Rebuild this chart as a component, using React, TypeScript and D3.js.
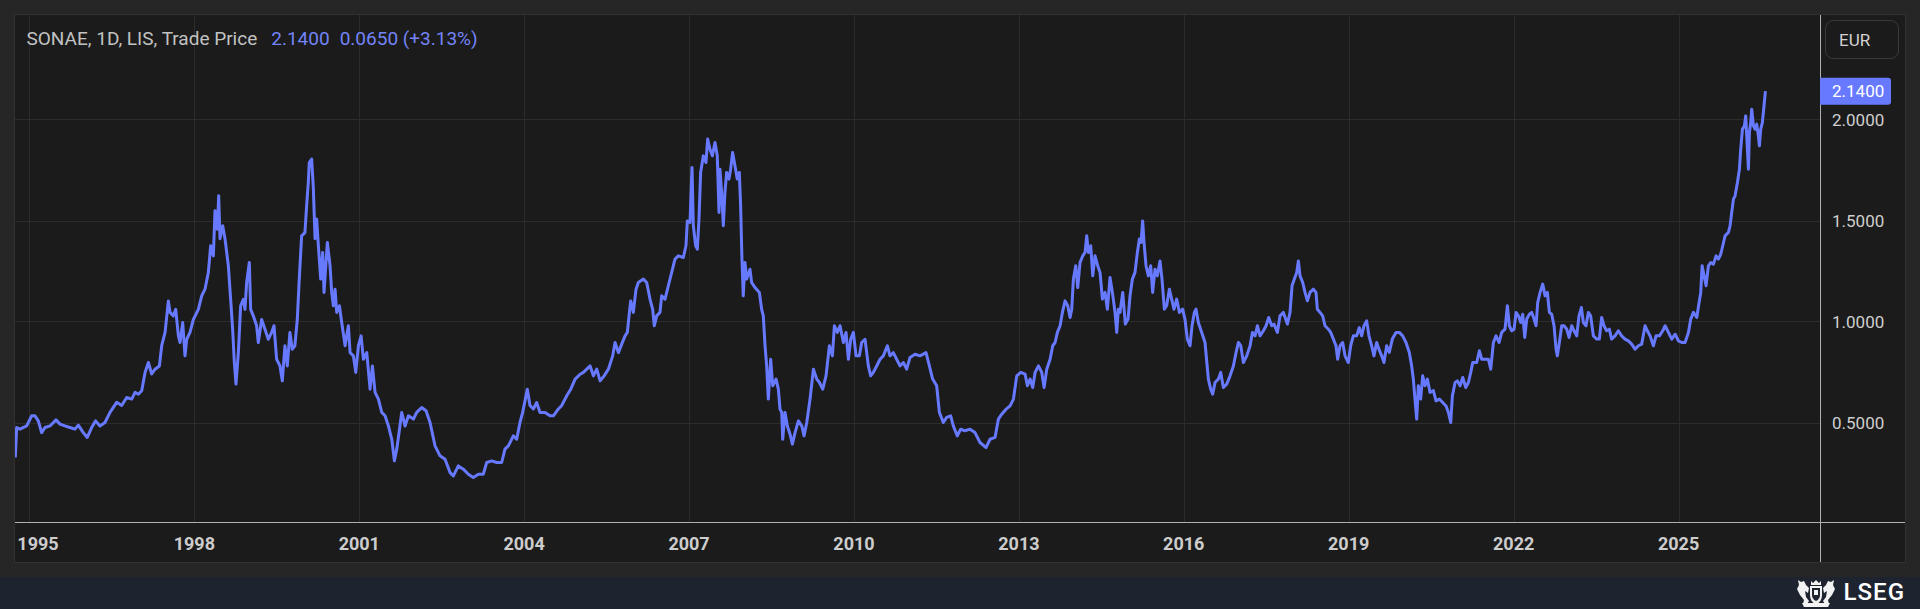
import React, { useEffect, useRef } from "react";
import * as d3 from "d3";

const WIDTH = 1920;
const HEIGHT = 609;

const titleText = "SONAE, 1D, LIS, Trade Price";
const lastPriceText = "2.1400";
const changeText = "0.0650 (+3.13%)";
const currencyText = "EUR";
const brandText = "LSEG";

const lastPrice = 2.14;
const yearTicks = [1995, 1998, 2001, 2004, 2007, 2010, 2013, 2016, 2019, 2022, 2025];
const priceTicks = [0.5, 1.0, 1.5, 2.0];

// visible time window (decimal years)
const viewStart = 1994.738;
const viewEnd = 2027.574;

// trade dates as decimal years
const tradeYears = [
  1994.744, 1994.768, 1994.829, 1994.95, 1995.041, 1995.102, 1995.162, 1995.223, 1995.284, 1995.375,
  1995.484, 1995.557, 1995.647, 1995.738, 1995.829, 1995.89, 1995.981, 1996.054, 1996.133, 1996.205,
  1996.284, 1996.375, 1996.466, 1996.587, 1996.678, 1996.769, 1996.86, 1996.921, 1996.981, 1997.042,
  1997.103, 1997.163, 1997.224, 1997.285, 1997.364, 1997.406, 1997.467, 1997.527, 1997.558, 1997.618,
  1997.661, 1997.709, 1997.739, 1997.788, 1997.83, 1997.861, 1997.921, 1997.982, 1998.073, 1998.134,
  1998.194, 1998.255, 1998.297, 1998.346, 1998.376, 1998.419, 1998.443, 1998.467, 1998.516, 1998.558,
  1998.619, 1998.661, 1998.697, 1998.728, 1998.758, 1998.801, 1998.843, 1998.892, 1998.922, 1998.952,
  1999.001, 1999.025, 1999.073, 1999.134, 1999.164, 1999.225, 1999.286, 1999.346, 1999.407, 1999.45,
  1999.498, 1999.559, 1999.601, 1999.649, 1999.692, 1999.74, 1999.783, 1999.831, 1999.874, 1999.91,
  1999.953, 2000.013, 2000.044, 2000.074, 2000.092,
  2000.135, 2000.166, 2000.196, 2000.226, 2000.257, 2000.299, 2000.335, 2000.36, 2000.42, 2000.469,
  2000.499, 2000.529, 2000.56, 2000.59, 2000.639, 2000.681, 2000.742, 2000.802, 2000.833, 2000.893,
  2000.936, 2000.984, 2001.033, 2001.075, 2001.136, 2001.196, 2001.239, 2001.287, 2001.348, 2001.409,
  2001.469, 2001.53, 2001.591, 2001.639, 2001.682, 2001.724, 2001.772, 2001.833, 2001.894, 2001.985,
  2002.045, 2002.136, 2002.215, 2002.288, 2002.379, 2002.47, 2002.561, 2002.652, 2002.712, 2002.803,
  2002.894, 2002.985, 2003.076, 2003.167, 2003.258, 2003.319, 2003.41, 2003.501, 2003.592, 2003.652,
  2003.713, 2003.804, 2003.865, 2003.925, 2003.974, 2004.059, 2004.107, 2004.168, 2004.228, 2004.289,
  2004.38, 2004.471, 2004.532, 2004.623, 2004.683, 2004.774, 2004.847, 2004.926, 2005.017, 2005.077,
  2005.199, 2005.259, 2005.32, 2005.381, 2005.454, 2005.532,
  2005.61, 2005.653, 2005.714, 2005.774, 2005.835, 2005.877, 2005.914, 2005.938, 2005.986, 2006.035,
  2006.077, 2006.168, 2006.229, 2006.29, 2006.338, 2006.368, 2006.411, 2006.471, 2006.502, 2006.562,
  2006.623, 2006.684, 2006.744, 2006.805, 2006.896, 2006.944, 2006.969, 2007.017, 2007.054, 2007.078,
  2007.12, 2007.151, 2007.181, 2007.211, 2007.26, 2007.308, 2007.339, 2007.381, 2007.424, 2007.472,
  2007.514, 2007.545, 2007.563, 2007.593, 2007.624, 2007.654, 2007.684, 2007.727, 2007.757, 2007.793,
  2007.836, 2007.878, 2007.915, 2007.939, 2007.963, 2007.987, 2008.018, 2008.048, 2008.109, 2008.139,
  2008.2, 2008.279, 2008.321, 2008.351, 2008.382, 2008.412, 2008.442, 2008.485, 2008.521, 2008.582,
  2008.624, 2008.654, 2008.685, 2008.703, 2008.745, 2008.788, 2008.836, 2008.879, 2008.927, 2008.988,
  2009.049, 2009.091, 2009.14, 2009.2, 2009.261, 2009.322, 2009.37, 2009.431, 2009.491, 2009.552,
  2009.607, 2009.643, 2009.697, 2009.746, 2009.807, 2009.855, 2009.898, 2009.94, 2009.989, 2010.037,
  2010.098, 2010.14, 2010.201, 2010.261, 2010.304, 2010.352, 2010.413, 2010.474, 2010.534, 2010.607,
  2010.655, 2010.716, 2010.777, 2010.837, 2010.898, 2010.959,
  2011.02, 2011.111, 2011.202, 2011.311, 2011.372, 2011.432, 2011.505, 2011.554, 2011.626, 2011.687,
  2011.76, 2011.808, 2011.881, 2011.942, 2012.02, 2012.111, 2012.202, 2012.293, 2012.402, 2012.475,
  2012.566, 2012.627, 2012.687, 2012.766, 2012.839, 2012.9, 2012.96, 2013.033, 2013.112, 2013.154,
  2013.203, 2013.251, 2013.294, 2013.355, 2013.415, 2013.458, 2013.506, 2013.567, 2013.615, 2013.658,
  2013.7, 2013.749, 2013.791, 2013.84, 2013.888, 2013.931, 2013.961, 2013.991, 2014.034, 2014.07,
  2014.112, 2014.161, 2014.203, 2014.234, 2014.264, 2014.307, 2014.343, 2014.385, 2014.434, 2014.476,
  2014.519, 2014.567, 2014.61, 2014.658, 2014.701, 2014.749, 2014.78, 2014.81, 2014.84, 2014.889,
  2014.937, 2014.986, 2015.022, 2015.065, 2015.113, 2015.156, 2015.192, 2015.222, 2015.252, 2015.277,
  2015.313, 2015.356, 2015.398, 2015.434, 2015.477, 2015.519, 2015.568, 2015.604, 2015.647, 2015.689,
  2015.738, 2015.78, 2015.822, 2015.871, 2015.92, 2015.98, 2016.022, 2016.065, 2016.114, 2016.15,
  2016.192, 2016.223, 2016.265, 2016.326, 2016.386, 2016.447,
  2016.489, 2016.525, 2016.568, 2016.629, 2016.671, 2016.719, 2016.78, 2016.841, 2016.901, 2016.95,
  2016.992, 2017.035, 2017.083, 2017.144, 2017.205, 2017.247, 2017.296, 2017.338, 2017.386, 2017.447,
  2017.496, 2017.544, 2017.599, 2017.641, 2017.702, 2017.75, 2017.811, 2017.884, 2017.932, 2017.969,
  2018.011, 2018.054, 2018.084, 2018.114, 2018.163, 2018.205, 2018.248, 2018.296, 2018.357, 2018.405,
  2018.429, 2018.478, 2018.526, 2018.569, 2018.63, 2018.672, 2018.721, 2018.769, 2018.799, 2018.842,
  2018.89, 2018.933, 2018.993, 2019.036, 2019.084, 2019.145, 2019.194, 2019.236, 2019.278, 2019.327,
  2019.369, 2019.418, 2019.46, 2019.509, 2019.551, 2019.6, 2019.642, 2019.691, 2019.739, 2019.794,
  2019.861, 2019.921, 2019.982, 2020.043, 2020.103, 2020.146, 2020.176, 2020.206, 2020.237, 2020.267,
  2020.309, 2020.346, 2020.388, 2020.431, 2020.479, 2020.54, 2020.588, 2020.649, 2020.709, 2020.77,
  2020.813, 2020.855, 2020.885, 2020.934, 2020.976, 2021.025, 2021.073, 2021.128, 2021.176, 2021.219,
  2021.255, 2021.328, 2021.376, 2021.419, 2021.48, 2021.54, 2021.583, 2021.631, 2021.68, 2021.734,
  2021.783, 2021.843, 2021.886, 2021.922,
  2021.965, 2022.008, 2022.044, 2022.087, 2022.129, 2022.165, 2022.202, 2022.238, 2022.287, 2022.329,
  2022.372, 2022.408, 2022.438, 2022.481, 2022.529, 2022.572, 2022.614, 2022.65, 2022.693, 2022.735,
  2022.772, 2022.796, 2022.832, 2022.875, 2022.917, 2022.966, 2023.008, 2023.057, 2023.099, 2023.148,
  2023.19, 2023.233, 2023.269, 2023.317, 2023.36, 2023.402, 2023.451, 2023.512, 2023.56, 2023.602,
  2023.645, 2023.693, 2023.742, 2023.784, 2023.845, 2023.906, 2023.966, 2024.027, 2024.088, 2024.148,
  2024.209, 2024.27, 2024.33, 2024.391, 2024.433, 2024.482, 2024.542, 2024.591, 2024.652, 2024.712,
  2024.755, 2024.815, 2024.876, 2024.937, 2024.997, 2025.058, 2025.118, 2025.179, 2025.221, 2025.27,
  2025.331, 2025.373, 2025.403, 2025.428, 2025.464, 2025.5, 2025.543, 2025.585, 2025.634, 2025.682,
  2025.725, 2025.767, 2025.804, 2025.846, 2025.907, 2025.937, 2025.967, 2025.998, 2026.028, 2026.071,
  2026.107, 2026.131, 2026.162, 2026.198, 2026.222, 2026.24, 2026.271, 2026.289, 2026.313, 2026.331,
  2026.362, 2026.392, 2026.422, 2026.452, 2026.471, 2026.495, 2026.525, 2026.555, 2026.58,
];

// close prices (EUR), same order as tradeYears
const tradePrices = [
  0.327, 0.475, 0.467, 0.483, 0.533, 0.533, 0.508, 0.45, 0.475, 0.483,
  0.513, 0.492, 0.483, 0.475, 0.467, 0.487, 0.45, 0.426, 0.475, 0.508,
  0.483, 0.5, 0.55, 0.6, 0.584, 0.624, 0.616, 0.649, 0.64, 0.657,
  0.748, 0.797, 0.74, 0.764, 0.78, 0.88, 0.946, 1.102, 1.045, 1.028,
  1.06, 0.93, 0.896, 0.995, 0.83, 0.912, 0.946, 1.01, 1.06, 1.127,
  1.16, 1.243, 1.375, 1.325, 1.548, 1.457, 1.622, 1.41, 1.474, 1.41,
  1.276, 1.11, 0.962, 0.797, 0.69, 0.846, 1.078, 1.11, 1.06, 1.193,
  1.292, 1.06, 1.028, 0.979, 0.896, 1.01, 0.962, 0.912, 0.946, 0.979,
  0.813, 0.78, 0.706, 0.88, 0.78, 0.946, 0.863, 0.88, 1.01, 1.21,
  1.424, 1.44, 1.573, 1.688, 1.787,
  1.804, 1.659, 1.41, 1.507, 1.375, 1.21, 1.342, 1.144, 1.391, 1.276,
  1.144, 1.078, 1.16, 1.045, 1.078, 0.995, 0.88, 0.979, 0.846, 0.83,
  0.748, 0.88, 0.929, 0.813, 0.846, 0.665, 0.78, 0.649, 0.616, 0.55,
  0.533, 0.483, 0.417, 0.31, 0.368, 0.45, 0.55, 0.483, 0.533, 0.517,
  0.55, 0.574, 0.558, 0.5, 0.384, 0.335, 0.318, 0.252, 0.236, 0.285,
  0.269, 0.244, 0.228, 0.244, 0.244, 0.302, 0.31, 0.302, 0.302, 0.368,
  0.384, 0.434, 0.417, 0.5, 0.55, 0.665, 0.584, 0.567, 0.599, 0.55,
  0.55, 0.533, 0.533, 0.567, 0.584, 0.632, 0.665, 0.715, 0.739, 0.748,
  0.78, 0.731, 0.764, 0.706, 0.731, 0.764,
  0.83, 0.896, 0.846, 0.888, 0.929, 0.946, 1.045, 1.102, 1.045, 1.16,
  1.193, 1.21, 1.193, 1.11, 1.06, 0.979, 1.028, 1.045, 1.127, 1.11,
  1.177, 1.243, 1.309, 1.325, 1.317, 1.375, 1.498, 1.49, 1.762, 1.474,
  1.375, 1.358, 1.507, 1.738, 1.82, 1.787, 1.903, 1.853, 1.82, 1.886,
  1.82, 1.54, 1.754, 1.639, 1.474, 1.639, 1.738, 1.705, 1.754, 1.837,
  1.771, 1.705, 1.738, 1.573, 1.309, 1.127, 1.292, 1.21, 1.259, 1.193,
  1.168, 1.144, 1.06, 1.028, 0.88, 0.78, 0.616, 0.813, 0.682, 0.715,
  0.665, 0.566, 0.55, 0.417, 0.55, 0.483, 0.442, 0.393, 0.45, 0.508,
  0.483, 0.434, 0.5, 0.616, 0.764, 0.715, 0.698, 0.665, 0.731, 0.88,
  0.83, 0.979, 0.946, 0.979, 0.896, 0.946, 0.813, 0.912, 0.946, 0.83,
  0.83, 0.896, 0.912, 0.78, 0.731, 0.748, 0.78, 0.813, 0.83, 0.88,
  0.83, 0.846, 0.813, 0.78, 0.797, 0.764,
  0.822, 0.838, 0.83, 0.846, 0.78, 0.715, 0.682, 0.55, 0.5, 0.525,
  0.533, 0.483, 0.434, 0.467, 0.459, 0.467, 0.45, 0.401, 0.376, 0.417,
  0.426, 0.517, 0.541, 0.566, 0.582, 0.616, 0.731, 0.748, 0.739, 0.682,
  0.715, 0.673, 0.748, 0.78, 0.748, 0.673, 0.764, 0.813, 0.88, 0.896,
  0.946, 0.979, 1.045, 1.102, 1.078, 1.02, 1.061, 1.21, 1.276, 1.168,
  1.292, 1.325, 1.342, 1.424, 1.342, 1.375, 1.226, 1.325, 1.276, 1.243,
  1.111, 1.144, 1.061, 1.218, 1.144, 1.045, 0.946, 1.061, 1.045, 1.144,
  0.987, 1.012, 1.127, 1.21, 1.243, 1.342, 1.408, 1.391, 1.498, 1.391,
  1.276, 1.226, 1.276, 1.144, 1.259, 1.226, 1.3, 1.21, 1.061, 1.078,
  1.16, 1.111, 1.061, 1.111, 1.045, 1.061, 1.012, 0.913, 0.88, 0.979,
  1.045, 1.061, 0.995, 0.946, 0.896, 0.715,
  0.665, 0.64, 0.698, 0.715, 0.748, 0.673, 0.69, 0.731, 0.78, 0.847,
  0.896, 0.88, 0.797, 0.83, 0.88, 0.946, 0.929, 0.979, 0.929, 0.954,
  0.979, 1.02, 0.979, 0.987, 0.946, 1.028, 1.045, 0.987, 1.045, 1.177,
  1.21, 1.243, 1.3, 1.226, 1.193, 1.144, 1.102, 1.144, 1.16, 1.144,
  1.061, 1.045, 1.028, 0.979, 0.962, 0.946, 0.913, 0.88, 0.813, 0.88,
  0.896, 0.83, 0.797, 0.88, 0.929, 0.929, 0.97, 0.929, 0.979, 1.003,
  0.929, 0.88, 0.83, 0.896, 0.863, 0.83, 0.797, 0.88, 0.847, 0.913,
  0.946, 0.946, 0.929, 0.896, 0.847, 0.78, 0.715, 0.616, 0.517, 0.682,
  0.616, 0.731, 0.682, 0.715, 0.649, 0.658, 0.607, 0.616, 0.599, 0.582,
  0.55, 0.5, 0.632, 0.698, 0.706, 0.682, 0.723, 0.673, 0.698, 0.748,
  0.797, 0.797, 0.855, 0.813, 0.813, 0.813, 0.764, 0.896, 0.929, 0.896,
  0.946, 0.962, 1.078, 0.979,
  0.954, 0.962, 1.045, 1.028, 0.995, 1.036, 0.921, 1.012, 1.036, 1.045,
  1.012, 0.979, 1.094, 1.144, 1.185, 1.127, 1.144, 1.045, 1.036, 0.979,
  0.863, 0.83, 0.896, 0.979, 0.979, 0.962, 0.921, 0.979, 0.954, 0.929,
  1.028, 1.069, 0.995, 0.979, 1.045, 1.028, 0.929, 0.913, 0.913, 1.02,
  0.979, 0.954, 0.962, 0.913, 0.929, 0.954, 0.929, 0.913, 0.904, 0.888,
  0.863, 0.88, 0.888, 0.979, 0.954, 0.929, 0.88, 0.929, 0.929, 0.954,
  0.979, 0.946, 0.913, 0.937, 0.904, 0.896, 0.896, 0.946, 1.012, 1.045,
  1.02, 1.094, 1.144, 1.276, 1.226, 1.177, 1.276, 1.292, 1.284, 1.325,
  1.309, 1.333, 1.375, 1.424, 1.441, 1.474, 1.54, 1.606, 1.622, 1.688,
  1.754, 1.853, 1.952, 1.969, 2.018, 1.919, 1.754, 1.936, 1.985, 2.051,
  1.969, 1.952, 1.977, 1.919, 1.87, 1.952, 1.985, 2.068, 2.14,
];

function yearToDate(y: number): Date {
  const yr = Math.floor(y);
  const start = Date.UTC(yr, 0, 1);
  const end = Date.UTC(yr + 1, 0, 1);
  return new Date(start + (y - yr) * (end - start));
}

export default function App() {
  const ref = useRef<SVGSVGElement | null>(null);

  useEffect(() => {
    document.body.style.margin = "0";
    document.body.style.background = "#262626";

    const panel = { left: 15, top: 15, right: 1905, bottom: 562 };
    const plot = { left: 15, top: 15, right: 1820, bottom: 522 };
    const font = "Roboto, 'Open Sans', Arial, sans-serif";
    const lineColor = "#6779ff";

    const svg = d3.select(ref.current);
    svg.selectAll("*").remove();

    // Scales
    const x = d3
      .scaleTime()
      .domain([yearToDate(viewStart), yearToDate(viewEnd)])
      .range([plot.left, plot.right]);
    const y = d3.scaleLinear().domain([0, 2.5]).range([523.5, 18.5]);

    // Backgrounds
    svg.append("rect").attr("width", WIDTH).attr("height", 577).attr("fill", "#262626");
    svg
      .append("rect")
      .attr("y", 577)
      .attr("width", WIDTH)
      .attr("height", HEIGHT - 577)
      .attr("fill", "#1e2330");
    svg
      .append("rect")
      .attr("x", panel.left - 0.5)
      .attr("y", panel.top - 0.5)
      .attr("width", panel.right - panel.left + 1)
      .attr("height", panel.bottom - panel.top + 1)
      .attr("fill", "#1b1b1b")
      .attr("stroke", "#313131");

    svg
      .append("clipPath")
      .attr("id", "plot-clip")
      .append("rect")
      .attr("x", plot.left)
      .attr("y", plot.top)
      .attr("width", plot.right - plot.left)
      .attr("height", plot.bottom - plot.top);

    // Grid
    const grid = svg.append("g").attr("stroke", "#2c2c2c").attr("stroke-width", 1);
    grid
      .selectAll(".vgrid")
      .data(yearTicks)
      .enter()
      .append("line")
      .attr("x1", (d) => Math.round(x(yearToDate(d))) + 0.5)
      .attr("x2", (d) => Math.round(x(yearToDate(d))) + 0.5)
      .attr("y1", plot.top)
      .attr("y2", plot.bottom);
    grid
      .selectAll(".hgrid")
      .data(priceTicks)
      .enter()
      .append("line")
      .attr("x1", plot.left)
      .attr("x2", plot.right)
      .attr("y1", (d) => Math.round(y(d)) + 0.5)
      .attr("y2", (d) => Math.round(y(d)) + 0.5);

    // Price line
    const series = tradeYears.map((t, i) => ({ date: yearToDate(t), value: tradePrices[i] }));
    const line = d3
      .line<{ date: Date; value: number }>()
      .x((d) => x(d.date))
      .y((d) => y(d.value));
    svg
      .append("path")
      .datum(series)
      .attr("clip-path", "url(#plot-clip)")
      .attr("fill", "none")
      .attr("stroke", lineColor)
      .attr("stroke-width", 3)
      .attr("stroke-linejoin", "round")
      .attr("d", line);

    // Axis lines
    svg
      .append("line")
      .attr("x1", panel.left)
      .attr("x2", panel.right)
      .attr("y1", plot.bottom + 0.5)
      .attr("y2", plot.bottom + 0.5)
      .attr("stroke", "#b0b0b0");
    svg
      .append("line")
      .attr("x1", plot.right + 0.5)
      .attr("x2", plot.right + 0.5)
      .attr("y1", panel.top)
      .attr("y2", panel.bottom)
      .attr("stroke", "#b0b0b0");

    // Year labels
    svg
      .append("g")
      .selectAll("text")
      .data(yearTicks)
      .enter()
      .append("text")
      .attr("x", (d) => Math.max(x(yearToDate(d)), plot.left + 23))
      .attr("y", 550)
      .attr("text-anchor", "middle")
      .attr("fill", "#cdcdcd")
      .style("font-family", font)
      .style("font-size", "18px")
      .style("font-weight", 700)
      .text((d) => String(d));

    // Price labels
    svg
      .append("g")
      .selectAll("text")
      .data(priceTicks)
      .enter()
      .append("text")
      .attr("x", plot.right + 12)
      .attr("y", (d) => y(d) + 6)
      .attr("fill", "#cfcfcf")
      .style("font-family", font)
      .style("font-size", "17px")
      .text((d) => d.toFixed(4));

    // Last price marker
    const yLast = y(lastPrice);
    svg
      .append("path")
      .attr(
        "d",
        `M${plot.right},${yLast - 13.5}h68a3,3 0 0 1 3,3v21a3,3 0 0 1 -3,3h-68z`,
      )
      .attr("fill", lineColor);
    svg
      .append("text")
      .attr("x", plot.right + 12)
      .attr("y", yLast + 6)
      .attr("fill", "#ffffff")
      .style("font-family", font)
      .style("font-size", "17px")
      .text(lastPriceText);

    // Currency box
    svg
      .append("rect")
      .attr("x", 1825.5)
      .attr("y", 20.5)
      .attr("width", 73)
      .attr("height", 38)
      .attr("rx", 8)
      .attr("fill", "none")
      .attr("stroke", "#3a3a3a");
    svg
      .append("text")
      .attr("x", 1839)
      .attr("y", 45.5)
      .attr("fill", "#d2d2d2")
      .style("font-family", font)
      .style("font-size", "17px")
      .text(currencyText);

    // Title
    const title = svg
      .append("text")
      .attr("x", 26.5)
      .attr("y", 44.8)
      .style("font-family", font)
      .style("font-size", "19px");
    title.append("tspan").attr("fill", "#c2c2c2").text(titleText);
    title.append("tspan").attr("dx", 14).attr("fill", "#7384f7").text(lastPriceText);
    title.append("tspan").attr("dx", 10).attr("fill", "#7384f7").text(changeText);

    // Footer brand
    const crest = svg.append("g").attr("transform", "translate(1795,578)").attr("fill", "#f2f2f2");
    crest.append("path").attr("d", "M15 8h12v9q0 7 -6 9q-6 -2 -6 -9z");
    crest.append("path").attr("d", "M17 10h8v7q0 4 -4 6q-4 -2 -4 -6z").attr("fill", "#1e2330");
    crest.append("path").attr("d", "M19 12h4v5h-4z");
    crest.append("path").attr("d", "M16 3l2 2l3 -3l3 3l2 -2v4h-10z");
    crest.append("path").attr("d", "M3 2l3 2l3 -1l2 4l3 3l-1 5l-3 -2l1 6l3 4l-2 3h-4l1 -4l-4 -5l-3 -6l2 -4z");
    crest.append("path").attr("d", "M39 2l-3 2l-3 -1l-2 4l-3 3l1 5l3 -2l-1 6l-3 4l2 3h4l-1 -4l4 -5l3 -6l-2 -4z");
    crest.append("path").attr("d", "M7 25h28l-2 4h-24z");

    svg
      .append("text")
      .attr("x", 1905)
      .attr("y", 600)
      .attr("text-anchor", "end")
      .attr("fill", "#ffffff")
      .style("font-family", font)
      .style("font-size", "24px")
      .style("font-weight", 500)
      .style("letter-spacing", "1px")
      .text(brandText);
  }, []);

  return (
    <svg
      ref={ref}
      width={WIDTH}
      height={HEIGHT}
      style={{ display: "block" }}
    />
  );
}
